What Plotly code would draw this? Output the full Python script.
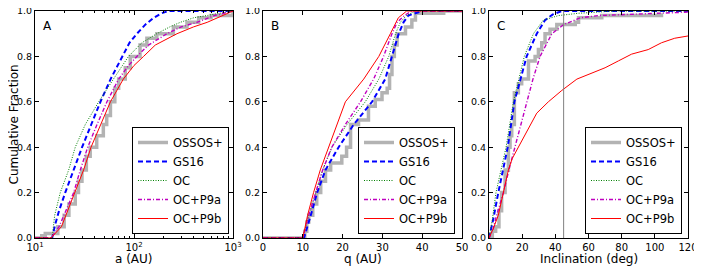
import plotly.graph_objects as go

# ---------------- data ----------------
names = ["OSSOS+", "GS16", "OC", "OC+P9a", "OC+P9b"]

# Panel A: semimajor axis a (AU)
a_ossos_x = [10, 11.7, 12.7, 17.0, 19.7, 22.0, 25.5, 27.5, 29.8, 33.0, 36.1, 42.0, 49.0, 53.0, 57.8, 64.0, 70.0, 81.6, 91.7, 115, 135, 170, 250, 343, 450, 600, 1000]
a_ossos_y = [0.0, 0.01, 0.02, 0.05, 0.1, 0.15, 0.2, 0.25, 0.3, 0.36, 0.4, 0.45, 0.5, 0.54, 0.6, 0.66, 0.7, 0.75, 0.8, 0.85, 0.88, 0.9, 0.93, 0.95, 0.97, 0.98, 1.0]
a_gs16_x = [10, 14.9, 16.0, 17.5, 20.2, 24.5, 29.9, 37.0, 45.8, 58.0, 75.7, 90.0, 107, 130, 158, 190, 224, 1000]
a_gs16_y = [0.0, 0.0, 0.06, 0.12, 0.2, 0.3, 0.4, 0.5, 0.6, 0.7, 0.8, 0.86, 0.9, 0.94, 0.97, 0.99, 1.0, 1.0]
a_oc_x = [10, 14.9, 15.8, 18.0, 21.9, 25.5, 32.2, 44.0, 62.0, 88.0, 120, 170, 230, 293, 400, 550, 750, 1000]
a_oc_y = [0.0, 0.0, 0.1, 0.2, 0.3, 0.4, 0.5, 0.6, 0.7, 0.8, 0.86, 0.9, 0.93, 0.95, 0.97, 0.98, 0.99, 1.0]
a_p9a_x = [10, 14.5, 17.5, 19.7, 24.6, 28.7, 34.1, 42.3, 53.3, 70.0, 88.0, 107, 140, 215, 300, 432, 650, 1000]
a_p9a_y = [0.0, 0.0, 0.05, 0.1, 0.2, 0.3, 0.4, 0.5, 0.6, 0.7, 0.76, 0.8, 0.85, 0.9, 0.93, 0.95, 0.98, 1.0]
a_p9b_x = [10, 14.5, 18.5, 20.5, 25.5, 31.0, 36.8, 45.8, 57.8, 78.0, 100, 125, 164, 272, 400, 548, 800, 1000]
a_p9b_y = [0.0, 0.0, 0.05, 0.1, 0.2, 0.3, 0.4, 0.5, 0.6, 0.7, 0.76, 0.8, 0.85, 0.9, 0.93, 0.95, 0.98, 1.0]

# Panel B: perihelion q (AU)
b_ossos_x = [0, 10.0, 10.5, 11.0, 11.5, 12.5, 13.5, 14.5, 15.7, 17.0, 19.8, 21.0, 22.0, 24.0, 26.5, 28.2, 29.9, 31.2, 31.8, 32.4, 33.0, 33.7, 35.8, 37.4, 38.3, 45.4, 50]
b_ossos_y = [0.0, 0.0, 0.03, 0.07, 0.1, 0.15, 0.2, 0.25, 0.3, 0.33, 0.36, 0.4, 0.5, 0.52, 0.58, 0.61, 0.64, 0.66, 0.72, 0.8, 0.85, 0.9, 0.93, 0.96, 0.99, 1.0, 1.0]
b_gs16_x = [0, 10.3, 12.0, 13.6, 15.7, 19.0, 22.8, 27.4, 30.7, 32.4, 34.1, 35.3, 36.5, 40.0, 50]
b_gs16_y = [0.0, 0.0, 0.1, 0.2, 0.3, 0.4, 0.5, 0.6, 0.7, 0.8, 0.9, 0.95, 0.98, 1.0, 1.0]
b_oc_x = [0, 10.0, 11.5, 13.2, 15.0, 17.3, 21.1, 25.7, 29.1, 31.6, 33.3, 34.5, 36.0, 38.3, 50]
b_oc_y = [0.0, 0.0, 0.1, 0.2, 0.3, 0.4, 0.5, 0.6, 0.7, 0.8, 0.9, 0.95, 0.98, 1.0, 1.0]
b_p9a_x = [0, 10.0, 11.5, 13.3, 15.0, 17.3, 20.7, 24.5, 27.8, 30.3, 32.4, 33.7, 35.5, 37.4, 50]
b_p9a_y = [0.0, 0.0, 0.1, 0.2, 0.3, 0.4, 0.5, 0.6, 0.7, 0.8, 0.9, 0.95, 0.98, 1.0, 1.0]
b_p9b_x = [0, 10.0, 11.2, 12.7, 14.4, 16.5, 18.6, 20.7, 25.3, 29.1, 32.0, 34.0, 36.1, 50]
b_p9b_y = [0.0, 0.0, 0.1, 0.2, 0.3, 0.4, 0.5, 0.6, 0.7, 0.8, 0.9, 0.97, 1.0, 1.0]

# Panel C: inclination (deg)
c_ossos_x = [0, 2.0, 4.0, 6.0, 7.6, 9.7, 11.7, 12.7, 13.7, 15.3, 17.7, 19.7, 23.8, 27.8, 29.8, 31.8, 33.8, 36.8, 40.9, 52.0, 54.0, 68.0, 104]
c_ossos_y = [0.0, 0.03, 0.05, 0.12, 0.2, 0.3, 0.4, 0.45, 0.5, 0.64, 0.68, 0.7, 0.78, 0.8, 0.83, 0.86, 0.9, 0.92, 0.94, 0.95, 0.97, 0.98, 0.99]
c_gs16_x = [0, 2.5, 5.6, 8.5, 11.3, 15.3, 19.0, 22.7, 28.8, 33.8, 38.5, 43.9, 120]
c_gs16_y = [0.0, 0.08, 0.2, 0.3, 0.4, 0.6, 0.7, 0.8, 0.9, 0.96, 0.985, 1.0, 1.0]
c_oc_x = [0, 2.0, 4.2, 7.3, 10.3, 14.7, 18.0, 21.3, 26.8, 32.8, 42.0, 54.0, 76.0, 120]
c_oc_y = [0.0, 0.08, 0.2, 0.3, 0.4, 0.6, 0.7, 0.8, 0.9, 0.96, 0.98, 0.99, 1.0, 1.0]
c_p9a_x = [0, 2.5, 4.6, 8.7, 12.0, 15.7, 19.0, 22.7, 26.5, 30.8, 37.9, 45.0, 55.0, 66.0, 96.0, 120]
c_p9a_y = [0.0, 0.04, 0.1, 0.2, 0.3, 0.4, 0.5, 0.6, 0.7, 0.8, 0.9, 0.94, 0.97, 0.98, 0.99, 0.995]
c_p9b_x = [0, 2.5, 5.6, 8.7, 11.7, 14.0, 17.7, 21.0, 24.8, 28.8, 35.8, 43.9, 53.0, 60.0, 70.0, 78.0, 86.0, 96.0, 104, 112, 120]
c_p9b_y = [0.0, 0.04, 0.1, 0.2, 0.3, 0.35, 0.4, 0.45, 0.5, 0.55, 0.6, 0.65, 0.7, 0.72, 0.75, 0.78, 0.81, 0.83, 0.86, 0.88, 0.89]

inc_marker = 45

panel_letters = ["A", "B", "C"]
x_titles = ["a (AU)", "q (AU)", "Inclination (deg)"]
y_title = "Cumulative Fraction"
y_ticks = [0.0, 0.2, 0.4, 0.6, 0.8, 1.0]
a_ticks = [10, 100, 1000]
a_ticktext = ["10<sup>1</sup>", "10<sup>2</sup>", "10<sup>3</sup>"]
a_minor = [20, 30, 40, 50, 60, 70, 80, 90, 200, 300, 400, 500, 600, 700, 800, 900]
q_ticks = [0, 10, 20, 30, 40, 50]
i_ticks = [0, 20, 40, 60, 80, 100, 120]

# ---------------- styles ----------------
styles = {
    "OSSOS+": dict(color="#b3b3b3", width=3.5, dash="solid", shape="hv"),
    "GS16": dict(color="#0000ff", width=2, dash="5px,3px", shape="linear"),
    "OC": dict(color="#008000", width=1, dash="1px,1.5px", shape="linear"),
    "OC+P9a": dict(color="#bf00bf", width=1.4, dash="4px,2px,1px,2px", shape="linear"),
    "OC+P9b": dict(color="#ff0000", width=1, dash="solid", shape="linear"),
}

panels = [
    [(a_ossos_x, a_ossos_y), (a_gs16_x, a_gs16_y), (a_oc_x, a_oc_y), (a_p9a_x, a_p9a_y), (a_p9b_x, a_p9b_y)],
    [(b_ossos_x, b_ossos_y), (b_gs16_x, b_gs16_y), (b_oc_x, b_oc_y), (b_p9a_x, b_p9a_y), (b_p9b_x, b_p9b_y)],
    [(c_ossos_x, c_ossos_y), (c_gs16_x, c_gs16_y), (c_oc_x, c_oc_y), (c_p9a_x, c_p9a_y), (c_p9b_x, c_p9b_y)],
]

# page is 702x273; the browser's default body margin (8px) offsets the figure
PAGE_OFF = 8
W, H = 702 - PAGE_OFF, 273 - PAGE_OFF
px = lambda v: (v - PAGE_OFF) / W
py = lambda v: 1 - (v - PAGE_OFF) / H
x_domains = [(35, 233), (263, 462), (489, 688)]
y_domain = [py(238), py(11)]
legend_right = [229, 455, 682]
legend_bottom = 234
x_title_y = 259
y_title_x = 13

fig = go.Figure()
FONT = "DejaVu Sans"

for p, series in enumerate(panels):
    xa = "x" if p == 0 else f"x{p+1}"
    ya = "y" if p == 0 else f"y{p+1}"
    lg = "legend" if p == 0 else f"legend{p+1}"
    for name, (xs, ys) in zip(names, series):
        s = styles[name]
        fig.add_trace(go.Scatter(
            x=xs, y=ys, mode="lines", name=name,
            line=dict(color=s["color"], width=s["width"], dash=s["dash"], shape=s["shape"]),
            xaxis=xa, yaxis=ya, legend=lg, showlegend=True,
        ))

common_axis = dict(
    showline=True, linecolor="black", linewidth=1, mirror="ticks",
    ticks="inside", ticklen=4, tickcolor="black", showgrid=False, zeroline=False,
    automargin=False, ticklabeloverflow="allow",
)

layout = dict(
    width=W, height=H, margin=dict(l=0, r=0, t=0, b=0, pad=0, autoexpand=False),
    paper_bgcolor="white", plot_bgcolor="white",
    font=dict(family=FONT, color="black"),
)

for p in range(3):
    sfx = "" if p == 0 else str(p + 1)
    d0, d1 = x_domains[p]
    xaxis = dict(common_axis, domain=[px(d0), px(d1)], anchor="y" + sfx,
                 tickfont=dict(family=FONT, size=10, color="black"))
    if p == 0:
        xaxis.update(type="log", range=[1, 3], tickvals=a_ticks, ticktext=a_ticktext,
                     minor=dict(ticks="inside", ticklen=2, tickcolor="black", tickvals=a_minor))
    elif p == 1:
        xaxis.update(range=[0, 50], tickvals=q_ticks)
    else:
        xaxis.update(range=[0, 120], tickvals=i_ticks)
    yaxis = dict(common_axis, domain=y_domain, anchor="x" + sfx, range=[0, 1],
                 tickvals=y_ticks, tickformat=".1f",
                 tickfont=dict(family=FONT, size=9.5, color="black"))
    layout["xaxis" + sfx] = xaxis
    layout["yaxis" + sfx] = yaxis
    layout["legend" + sfx] = dict(
        x=px(legend_right[p]), y=py(legend_bottom), xanchor="right", yanchor="bottom",
        bgcolor="white", bordercolor="black", borderwidth=1,
        font=dict(family=FONT, size=11.5, color="black"),
        tracegroupgap=0, itemwidth=30,
    )

fig.update_layout(**layout)

for p in range(3):
    sfx = "" if p == 0 else str(p + 1)
    fig.add_annotation(
        text=panel_letters[p], xref=f"x{sfx} domain", yref=f"y{sfx} domain",
        x=0.03, y=0.975, xanchor="left", yanchor="top", showarrow=False,
        font=dict(family=FONT, size=12, color="black"),
    )
    fig.add_annotation(
        text=x_titles[p], xref=f"x{sfx} domain", yref="paper",
        x=0.5, y=py(x_title_y), xanchor="center", yanchor="middle", showarrow=False,
        font=dict(family=FONT, size=12, color="black"),
    )

fig.add_annotation(
    text=y_title, xref="paper", yref="y domain", x=px(y_title_x), y=0.5,
    xanchor="center", yanchor="middle", textangle=-90, showarrow=False,
    font=dict(family=FONT, size=12, color="black"),
)

fig.add_shape(type="line", xref="x3", yref="y3 domain", x0=inc_marker, x1=inc_marker,
              y0=0, y1=1, line=dict(color="#808080", width=1))

fig.write_html("out.html")
